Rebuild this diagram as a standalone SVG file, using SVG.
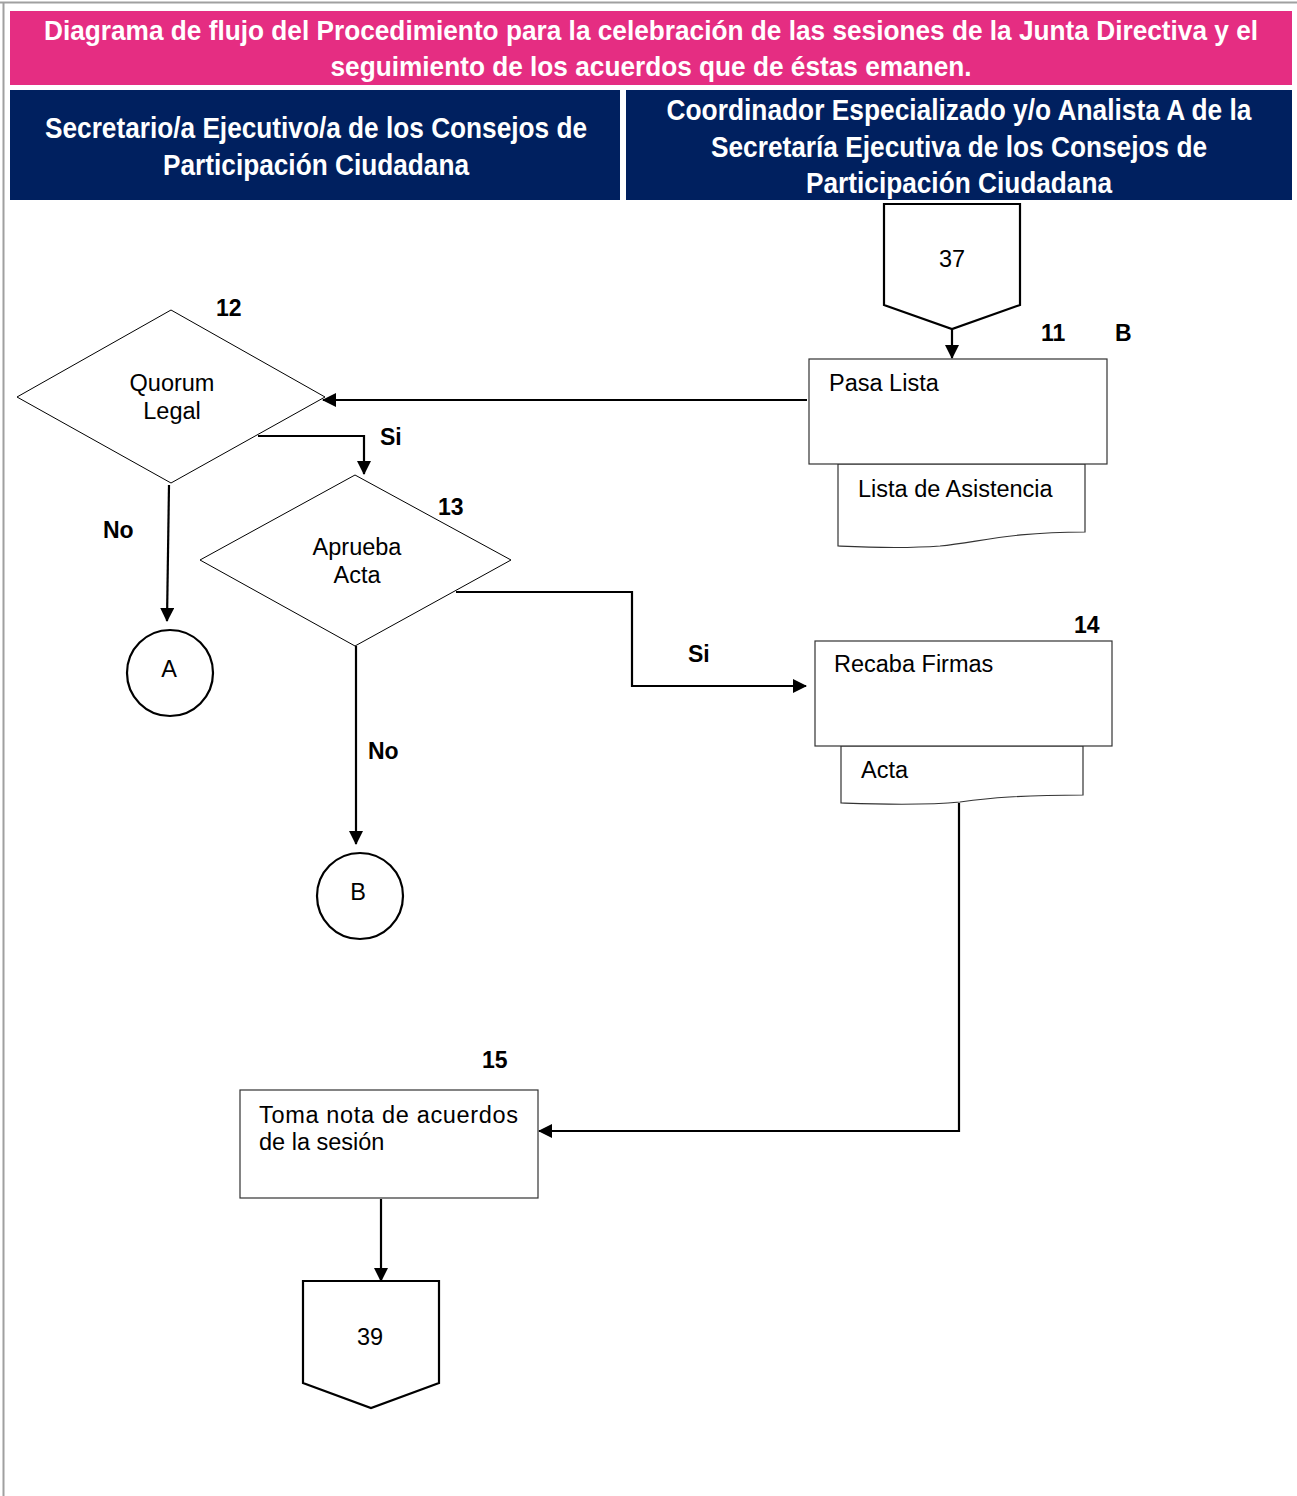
<svg xmlns="http://www.w3.org/2000/svg" width="1297" height="1496" viewBox="0 0 1297 1496">
  <style>
    .title { font-family: "Liberation Sans Narrow", "Liberation Sans", Arial, sans-serif; font-weight: bold; fill: #ffffff; }
    .lbl { font-family: "Liberation Sans", Arial, sans-serif; font-size: 23.5px; fill: #000000; }
    .num { font-family: "Liberation Sans", Arial, sans-serif; font-size: 23px; font-weight: bold; fill: #000000; }
    .box { fill: #ffffff; stroke: #333333; stroke-width: 1.2; }
    .shape { fill: #ffffff; stroke: #000000; stroke-width: 1; }
    .thick { fill: #ffffff; stroke: #000000; stroke-width: 2.2; }
    .conn { fill: none; stroke: #000000; stroke-width: 2.2; }
  </style>
  <defs>
    <marker id="arrow" markerUnits="userSpaceOnUse" markerWidth="14" markerHeight="14" refX="13" refY="7" orient="auto">
      <path d="M0,0 L14,7 L0,14 z" fill="#000000"/>
    </marker>
  </defs>

  <rect x="0" y="0" width="1297" height="1496" fill="#ffffff"/>
  <!-- page frame -->
  <line x1="0" y1="2.5" x2="1297" y2="2.5" stroke="#a0a0a0" stroke-width="2"/>
  <line x1="3.5" y1="2" x2="3.5" y2="1496" stroke="#a0a0a0" stroke-width="2"/>

  <!-- heading band: condensed lettering via vertical stretch -->
  <g id="heading">
    <rect x="10" y="11" width="1282" height="74" fill="#e52d82"/>
    <g transform="translate(651,40) scale(1,1.22)">
      <text class="title" x="0" y="0" font-size="23" text-anchor="middle" textLength="1214" lengthAdjust="spacingAndGlyphs">Diagrama de flujo del Procedimiento para la celebración de las sesiones de la Junta Directiva y el</text>
    </g>
    <g transform="translate(651,76) scale(1,1.22)">
      <text class="title" x="0" y="0" font-size="23" text-anchor="middle" textLength="641" lengthAdjust="spacingAndGlyphs">seguimiento de los acuerdos que de éstas emanen.</text>
    </g>
  </g>

  <!-- swimlane headers -->
  <g id="lane-secretario">
    <rect x="10" y="90" width="610" height="110" fill="#00205f"/>
    <g transform="translate(316,138) scale(1,1.25)">
      <text class="title" x="0" y="0" font-size="24" text-anchor="middle" textLength="542" lengthAdjust="spacingAndGlyphs">Secretario/a Ejecutivo/a de los Consejos de</text>
    </g>
    <g transform="translate(316,175) scale(1,1.25)">
      <text class="title" x="0" y="0" font-size="24" text-anchor="middle" textLength="306" lengthAdjust="spacingAndGlyphs">Participación Ciudadana</text>
    </g>
  </g>
  <g id="lane-coordinador">
    <rect x="626" y="90" width="666" height="110" fill="#00205f"/>
    <g transform="translate(959,120) scale(1,1.25)">
      <text class="title" x="0" y="0" font-size="24" text-anchor="middle" textLength="585" lengthAdjust="spacingAndGlyphs">Coordinador Especializado y/o Analista A de la</text>
    </g>
    <g transform="translate(959,157) scale(1,1.25)">
      <text class="title" x="0" y="0" font-size="24" text-anchor="middle" textLength="496" lengthAdjust="spacingAndGlyphs">Secretaría Ejecutiva de los Consejos de</text>
    </g>
    <g transform="translate(959,193) scale(1,1.25)">
      <text class="title" x="0" y="0" font-size="24" text-anchor="middle" textLength="306" lengthAdjust="spacingAndGlyphs">Participación Ciudadana</text>
    </g>
  </g>

  <!-- connectors -->
  <g id="connectors">
    <line class="conn" x1="952" y1="329" x2="952" y2="358" marker-end="url(#arrow)"/>
    <line class="conn" x1="807" y1="400" x2="323" y2="400" marker-end="url(#arrow)"/>
    <polyline class="conn" points="258,436 364,436 364,474" marker-end="url(#arrow)"/>
    <line class="conn" x1="169" y1="485" x2="167" y2="621" marker-end="url(#arrow)"/>
    <polyline class="conn" points="456,592 632,592 632,686 806,686" marker-end="url(#arrow)"/>
    <line class="conn" x1="356" y1="646" x2="356" y2="844" marker-end="url(#arrow)"/>
    <polyline class="conn" points="959,803 959,1131 539,1131" marker-end="url(#arrow)"/>
    <line class="conn" x1="381" y1="1199" x2="381" y2="1281" marker-end="url(#arrow)"/>
    <text class="num" x="380" y="445">Si</text>
    <text class="num" x="103" y="538">No</text>
    <text class="num" x="688" y="662">Si</text>
    <text class="num" x="368" y="759">No</text>
  </g>

  <!-- off-page connector 37 -->
  <g id="node-37">
    <path class="thick" d="M884,204 L1020,204 L1020,305 L952,329 L884,305 Z"/>
    <text class="lbl" x="952" y="267" text-anchor="middle">37</text>
  </g>

  <!-- step 11 -->
  <g id="node-11">
    <path class="box" d="M838,464 L1085,464 L1085,532 C1010,532 980,542 940,546 C900,549 860,547 838,546 Z"/>
    <rect class="box" x="809" y="359" width="298" height="105"/>
    <text class="lbl" x="829" y="391">Pasa Lista</text>
    <text class="lbl" x="858" y="497">Lista de Asistencia</text>
    <text class="num" x="1041" y="341">11</text>
    <text class="num" x="1115" y="341">B</text>
  </g>

  <!-- step 12 -->
  <g id="node-12">
    <polygon class="shape" points="171,310 325,397 171,483 17,397"/>
    <text class="lbl" x="172" y="391" text-anchor="middle">Quorum</text>
    <text class="lbl" x="172" y="419" text-anchor="middle">Legal</text>
    <text class="num" x="216" y="316">12</text>
  </g>

  <!-- step 13 -->
  <g id="node-13">
    <polygon class="shape" points="355,475 511,560 355,646 200,560"/>
    <text class="lbl" x="357" y="555" text-anchor="middle">Aprueba</text>
    <text class="lbl" x="357" y="583" text-anchor="middle">Acta</text>
    <text class="num" x="438" y="515">13</text>
  </g>

  <!-- connector A -->
  <g id="node-A">
    <circle class="thick" cx="170" cy="673" r="43"/>
    <text class="lbl" x="169" y="677" text-anchor="middle">A</text>
  </g>

  <!-- connector B -->
  <g id="node-B">
    <circle class="thick" cx="360" cy="896" r="43"/>
    <text class="lbl" x="358" y="900" text-anchor="middle">B</text>
  </g>

  <!-- step 14 -->
  <g id="node-14">
    <path class="box" d="M841,746 L1083,746 L1083,795 C1020,795 990,798 960,802 C920,806 870,804 841,803 Z"/>
    <rect class="box" x="815" y="641" width="297" height="105"/>
    <text class="lbl" x="834" y="672">Recaba Firmas</text>
    <text class="lbl" x="861" y="778">Acta</text>
    <text class="num" x="1074" y="633">14</text>
  </g>

  <!-- step 15 -->
  <g id="node-15">
    <rect class="box" x="240" y="1090" width="298" height="108"/>
    <text class="lbl" x="259" y="1123" textLength="259" lengthAdjust="spacing">Toma nota de acuerdos</text>
    <text class="lbl" x="259" y="1150">de la sesión</text>
    <text class="num" x="482" y="1068">15</text>
  </g>

  <!-- off-page connector 39 -->
  <g id="node-39">
    <path class="thick" d="M303,1281 L439,1281 L439,1383 L371,1408 L303,1383 Z"/>
    <text class="lbl" x="370" y="1345" text-anchor="middle">39</text>
  </g>
</svg>
